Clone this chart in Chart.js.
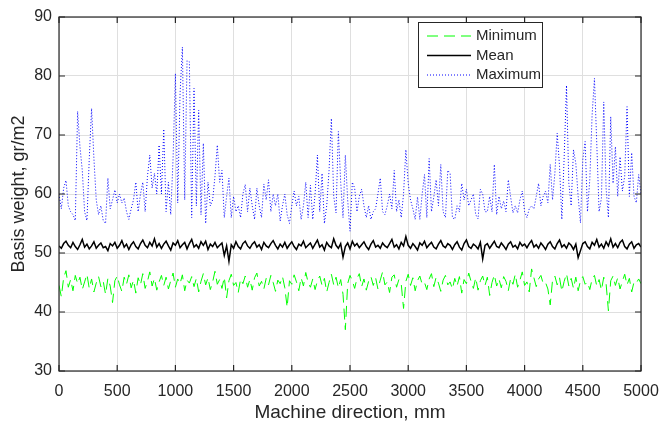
<!DOCTYPE html>
<html lang="en">
<head>
    <meta charset="UTF-8"/>
    <title>Basis weight along machine direction</title>
    <script src="https://cdn.jsdelivr.net/npm/chart.js"></script>
    <style>
        html, body {
            margin: 0;
            background: #ffffff;
        }

        #chartBox {
            width: 659px;
            height: 422px;
        }
    </style>
</head>
<body>
<div id="chartBox">
    <canvas id="basisChart" width="659" height="422"></canvas>
</div>

<script>
    // sample spacing along machine direction, mm
    const stepMm = 20;

    const minimumValues = [
        44.5, 42.6, 45.8, 47.0, 44.2, 45.5, 43.6, 46.2, 44.8, 45.9,
        43.8, 45.1, 46.4, 44.0, 45.6, 43.4, 44.9, 46.0, 44.3, 45.2,
        43.0, 45.7, 44.4, 41.6, 45.3, 46.1, 44.6, 43.5, 45.9, 44.7,
        46.3, 44.1, 45.4, 43.2, 45.8, 44.6, 46.5, 44.0, 45.2, 46.8,
        44.4, 45.7, 43.7, 45.1, 46.2, 44.5, 45.9, 43.9, 45.3, 46.6,
        44.2, 45.6, 44.8, 46.3, 43.6, 45.4, 44.9, 46.0, 44.3, 45.7,
        43.4, 45.2, 46.5, 44.6, 45.8, 43.8, 45.1, 46.9, 44.7, 45.5,
        44.0, 45.9, 42.4, 45.3, 46.4, 44.5, 45.0, 43.3, 45.6, 44.8,
        46.1, 44.2, 45.5, 43.7, 45.8, 46.6, 44.4, 45.2, 43.9, 45.7,
        44.6, 46.2, 45.0, 43.5, 45.4, 44.8, 46.0, 44.1, 40.8, 45.3,
        44.7, 46.3, 45.1, 43.6, 45.8, 44.4, 46.7, 45.0, 44.2, 45.6,
        43.8, 45.3, 46.1, 44.5, 45.7, 43.4, 45.0, 46.4, 44.6, 45.9,
        44.1, 45.5, 43.0, 37.0, 44.8, 46.2, 45.3, 44.0, 45.7, 46.5,
        44.3, 45.6, 43.7, 45.2, 46.0, 44.5, 45.8, 43.9, 45.4, 46.8,
        44.6, 45.1, 43.3, 45.9, 46.3, 44.2, 45.5, 44.8, 40.6, 45.2,
        46.4, 44.5, 45.8, 43.6, 45.3, 46.1, 44.7, 45.0, 43.8, 45.6,
        46.5, 44.3, 45.9, 44.9, 43.5, 45.4, 46.2, 44.6, 45.1, 43.9,
        45.7, 44.4, 46.0, 43.2, 45.5, 44.8, 46.6, 45.2, 44.0, 45.8,
        43.7, 45.3, 46.1, 44.5, 45.9, 42.8, 45.0, 46.3, 44.4, 45.6,
        44.1, 46.0, 45.2, 43.6, 45.7, 44.7, 46.4, 44.2, 45.4, 46.8,
        44.5, 45.1, 43.4, 47.3, 45.8, 44.3, 45.6, 46.2, 44.8, 45.0,
        43.9, 41.2, 45.4, 46.1, 44.6, 45.8, 43.5, 45.2, 46.5, 44.4,
        45.7, 44.0, 45.9, 43.6, 45.3, 46.0, 44.7, 45.1, 43.8, 45.6,
        46.2, 44.4, 45.5, 43.7, 45.9, 44.8, 40.2, 45.3, 46.1, 44.5,
        45.8, 43.9, 45.2, 46.4, 44.6, 45.7, 43.4, 45.1, 44.9, 45.6,
        44.8
    ];

    const meanValues = [
        51.2, 50.8, 51.6, 52.0, 51.3, 50.9, 51.8, 51.1, 50.6, 51.4,
        52.3, 51.0, 51.5, 50.7, 51.2, 51.9, 50.8, 51.3, 51.7, 50.9,
        51.1, 50.4, 51.6, 51.2, 51.8, 50.8, 51.3, 52.1, 51.0, 51.5,
        50.6, 51.4, 51.9, 51.1, 50.7, 51.6, 52.2, 51.3, 50.9, 51.8,
        51.2, 52.4, 51.0, 51.6, 50.8, 51.5, 52.0, 51.2, 50.5, 51.7,
        51.3, 52.1, 50.9, 51.4, 51.8, 50.7, 51.6, 52.3, 51.0, 51.4,
        50.8, 51.9, 51.3, 52.0, 50.6, 51.5, 51.1, 51.8, 50.9, 51.3,
        51.7, 49.6, 51.2, 48.6, 51.4, 50.8, 51.9, 51.1, 50.7, 51.6,
        52.0, 51.2, 50.8, 51.5, 51.9, 51.0, 51.4, 50.6, 51.8, 51.2,
        50.9, 51.6, 52.1, 51.3, 50.7, 51.5, 51.0, 51.8, 50.8, 51.4,
        51.9, 51.1, 50.6, 51.5, 51.2, 52.0, 50.9, 51.3, 51.7, 50.8,
        51.5, 52.2, 51.0, 51.4, 50.5, 51.8, 51.2, 50.9, 52.4, 51.3,
        50.8, 51.6, 49.3, 51.1, 51.7, 50.7, 52.0, 51.2, 51.6, 50.9,
        51.4, 51.9, 51.1, 50.6, 51.5, 52.1, 51.0, 51.3, 50.8, 51.7,
        51.2, 50.9, 51.6, 52.3, 51.0, 51.4, 50.7, 51.8, 51.2, 52.8,
        51.3, 50.8, 51.6, 51.1, 50.5, 51.7, 51.3, 52.0, 50.9, 51.4,
        51.8, 51.0, 50.7, 51.5, 52.1, 51.2, 50.9, 51.6, 51.3, 50.6,
        51.4, 51.9, 51.0, 50.5, 51.6, 52.2, 51.1, 50.8, 51.5, 51.2,
        50.7, 51.8, 49.0, 51.3, 51.6, 50.8, 51.4, 52.0, 51.1, 50.9,
        51.7, 51.2, 50.6, 51.5, 51.9, 51.0, 51.3, 50.7, 51.8, 51.2,
        51.5, 50.9, 51.6, 52.1, 51.0, 51.4, 50.8, 51.7, 51.2, 50.6,
        51.5, 51.9, 51.1, 50.7, 51.6, 52.2, 51.0, 51.4, 50.8, 51.7,
        51.3, 50.6, 51.5, 49.2, 50.4, 51.6, 51.9, 51.1, 50.7, 51.8,
        51.3, 52.3, 51.0, 51.5, 50.8, 51.9, 51.2, 52.4, 51.0, 51.6,
        50.9, 51.8, 52.2, 51.1, 50.7, 51.5, 51.9, 50.8, 51.4, 51.6,
        51.0
    ];

    const maximumValues = [
        60.0, 57.5, 61.0, 62.3, 58.0, 57.0, 56.5, 55.5, 74.0, 68.0,
        64.0, 57.0, 55.5, 66.0, 74.5, 66.0, 59.0, 56.5, 58.0, 55.5,
        55.0, 62.7, 57.5, 59.0, 60.7, 58.5, 60.0, 58.5, 59.3, 57.0,
        55.7, 57.5, 59.0, 62.0, 57.0, 60.0, 62.0, 57.0, 63.0, 66.6,
        61.0, 63.5, 60.0, 68.3, 60.0, 71.0, 57.0, 62.0, 56.5, 66.0,
        80.4, 58.5, 77.0, 84.9, 59.0, 82.6, 82.4, 56.0, 77.9, 58.0,
        74.2, 56.5, 68.6, 55.0, 62.0, 58.0, 59.0, 63.0, 68.3, 62.0,
        64.0, 56.0, 59.6, 62.7, 56.0, 59.6, 57.0, 58.0, 56.0, 60.0,
        61.6, 57.0, 61.0, 58.0, 55.7, 61.0, 58.0, 56.0, 61.7, 59.0,
        62.4, 57.0, 60.0, 58.0, 60.0, 55.4, 58.0, 60.0, 56.5, 55.0,
        58.0, 60.5, 58.0, 59.6, 55.7, 58.0, 62.0, 56.0, 61.5, 55.7,
        60.0, 66.6, 57.0, 63.5, 55.0, 58.0, 64.0, 72.8, 59.6, 56.8,
        70.6, 62.0, 56.0, 66.6, 59.0, 53.7, 62.0, 61.0, 57.0, 59.6,
        60.8, 58.0, 56.0, 58.0, 55.7, 57.0, 57.5, 60.0, 62.7, 57.0,
        56.5, 58.0, 60.0, 57.5, 64.0, 57.0, 59.0, 56.0, 60.0, 67.5,
        61.8, 59.0, 57.5, 55.7, 59.5, 55.7, 60.0, 63.3, 56.0, 66.0,
        57.0, 59.5, 62.4, 58.0, 65.0, 57.0, 56.0, 64.0, 63.5, 56.0,
        55.7, 58.0, 57.0, 61.8, 59.0, 60.8, 58.0, 59.0, 60.0, 56.5,
        55.8, 60.8, 60.0, 57.0, 57.0, 59.6, 57.0, 65.0, 56.5, 59.6,
        57.5, 58.8, 57.0, 62.4, 59.5, 56.8, 58.0, 56.8, 59.0, 60.5,
        57.0, 56.0, 57.5, 58.0, 57.5, 59.6, 61.8, 58.0, 59.6, 60.5,
        58.5, 65.0, 59.0, 63.5, 70.3, 64.7, 55.7, 66.3, 78.4, 61.8,
        58.0, 67.5, 65.2, 59.6, 55.1, 65.8, 68.9, 57.0, 62.4, 73.4,
        79.6, 68.6, 57.0, 59.3, 75.6, 61.0, 56.0, 73.1, 61.8, 68.0,
        59.6, 66.3, 60.5, 63.0, 74.8, 59.6, 67.0, 59.6, 58.5, 63.3,
        60.0
    ];

    const xTicks = [0, 500, 1000, 1500, 2000, 2500, 3000, 3500, 4000, 4500, 5000];
    const yTicks = [30, 40, 50, 60, 70, 80, 90];

    const toPoints = vals => vals.map((v, i) => ({x: i * stepMm, y: v}));

    const axisColor = '#262626';
    const fontFamily = '"Liberation Sans", Arial, Helvetica, sans-serif';

    // MATLAB style box with inward ticks
    const boxPlugin = {
        id: 'boxPlugin',
        afterDatasetsDraw(chart) {
            const {ctx, chartArea: a, scales} = chart;
            const tick = 6;
            ctx.save();
            ctx.strokeStyle = axisColor;
            ctx.lineWidth = 1.2;
            ctx.beginPath();
            xTicks.forEach(v => {
                const px = scales.x.getPixelForValue(v);
                ctx.moveTo(px, a.bottom);
                ctx.lineTo(px, a.bottom - tick);
                ctx.moveTo(px, a.top);
                ctx.lineTo(px, a.top + tick);
            });
            yTicks.forEach(v => {
                const py = scales.y.getPixelForValue(v);
                ctx.moveTo(a.left, py);
                ctx.lineTo(a.left + tick, py);
                ctx.moveTo(a.right, py);
                ctx.lineTo(a.right - tick, py);
            });
            ctx.stroke();
            ctx.strokeRect(a.left, a.top, a.right - a.left, a.bottom - a.top);
            ctx.restore();
        }
    };

    // legend box in the upper right of the axes
    const legendPlugin = {
        id: 'legendPlugin',
        afterDraw(chart) {
            const {ctx} = chart;
            const bx = 418, by = 22, bw = 124, bh = 65;
            ctx.save();
            ctx.fillStyle = '#ffffff';
            ctx.fillRect(bx, by, bw, bh);
            ctx.strokeStyle = axisColor;
            ctx.lineWidth = 1;
            ctx.strokeRect(bx + 0.5, by + 0.5, bw, bh);
            ctx.font = '15px ' + fontFamily;
            ctx.textBaseline = 'middle';
            chart.data.datasets.forEach((ds, i) => {
                const rowY = by + 14 + i * 19.5;
                ctx.strokeStyle = ds.borderColor;
                ctx.lineWidth = ds.borderWidth;
                ctx.setLineDash(ds.borderDash || []);
                ctx.beginPath();
                ctx.moveTo(bx + 9, rowY);
                ctx.lineTo(bx + 53, rowY);
                ctx.stroke();
                ctx.setLineDash([]);
                ctx.fillStyle = axisColor;
                ctx.fillText(ds.label, bx + 58, rowY);
            });
            ctx.restore();
        }
    };

    new Chart(document.getElementById('basisChart'), {
        type: 'line',
        data: {
            datasets: [{
                label: 'Minimum',
                data: toPoints(minimumValues),
                borderColor: '#00ff00',
                borderWidth: 1,
                borderDash: [11, 6]
            }, {
                label: 'Mean',
                data: toPoints(meanValues),
                borderColor: '#000000',
                borderWidth: 1.5
            }, {
                label: 'Maximum',
                data: toPoints(maximumValues),
                borderColor: '#0000ff',
                borderWidth: 1,
                borderDash: [1, 2]
            }]
        },
        options: {
            responsive: false,
            animation: false,
            elements: {
                point: {radius: 0},
                line: {tension: 0}
            },
            layout: {
                autoPadding: false,
                padding: {top: 17, right: 18, left: 0, bottom: 0}
            },
            plugins: {
                legend: {display: false},
                tooltip: {enabled: false}
            },
            scales: {
                x: {
                    type: 'linear',
                    min: 0,
                    max: 5000,
                    afterBuildTicks: s => {
                        s.ticks = xTicks.map(v => ({value: v}));
                    },
                    afterFit: s => {
                        // keep the plot box where the reference has it
                        s.height = 51;
                        s.paddingLeft = 0;
                        s.paddingRight = 0;
                    },
                    grid: {color: '#dfdfdf', drawTicks: false},
                    border: {display: false},
                    ticks: {
                        color: axisColor,
                        padding: 11,
                        maxRotation: 0,
                        callback: v => String(v),
                        font: {family: fontFamily, size: 16}
                    },
                    title: {
                        display: true,
                        text: 'Machine direction, mm',
                        color: axisColor,
                        padding: {top: 0, bottom: 0},
                        font: {family: fontFamily, size: 19, lineHeight: 1}
                    }
                },
                y: {
                    min: 30,
                    max: 90,
                    afterBuildTicks: s => {
                        s.ticks = yTicks.map(v => ({value: v}));
                    },
                    afterFit: s => {
                        s.width = 59;
                        s.paddingTop = 0;
                        s.paddingBottom = 0;
                    },
                    grid: {color: '#dfdfdf', drawTicks: false},
                    border: {display: false},
                    ticks: {
                        color: axisColor,
                        padding: 7,
                        font: {family: fontFamily, size: 16}
                    },
                    title: {
                        display: true,
                        text: 'Basis weight, gr/m2',
                        color: axisColor,
                        padding: {top: 10, bottom: 0},
                        font: {family: fontFamily, size: 18, lineHeight: 1}
                    }
                }
            }
        },
        plugins: [boxPlugin, legendPlugin]
    });
</script>
</body>
</html>
